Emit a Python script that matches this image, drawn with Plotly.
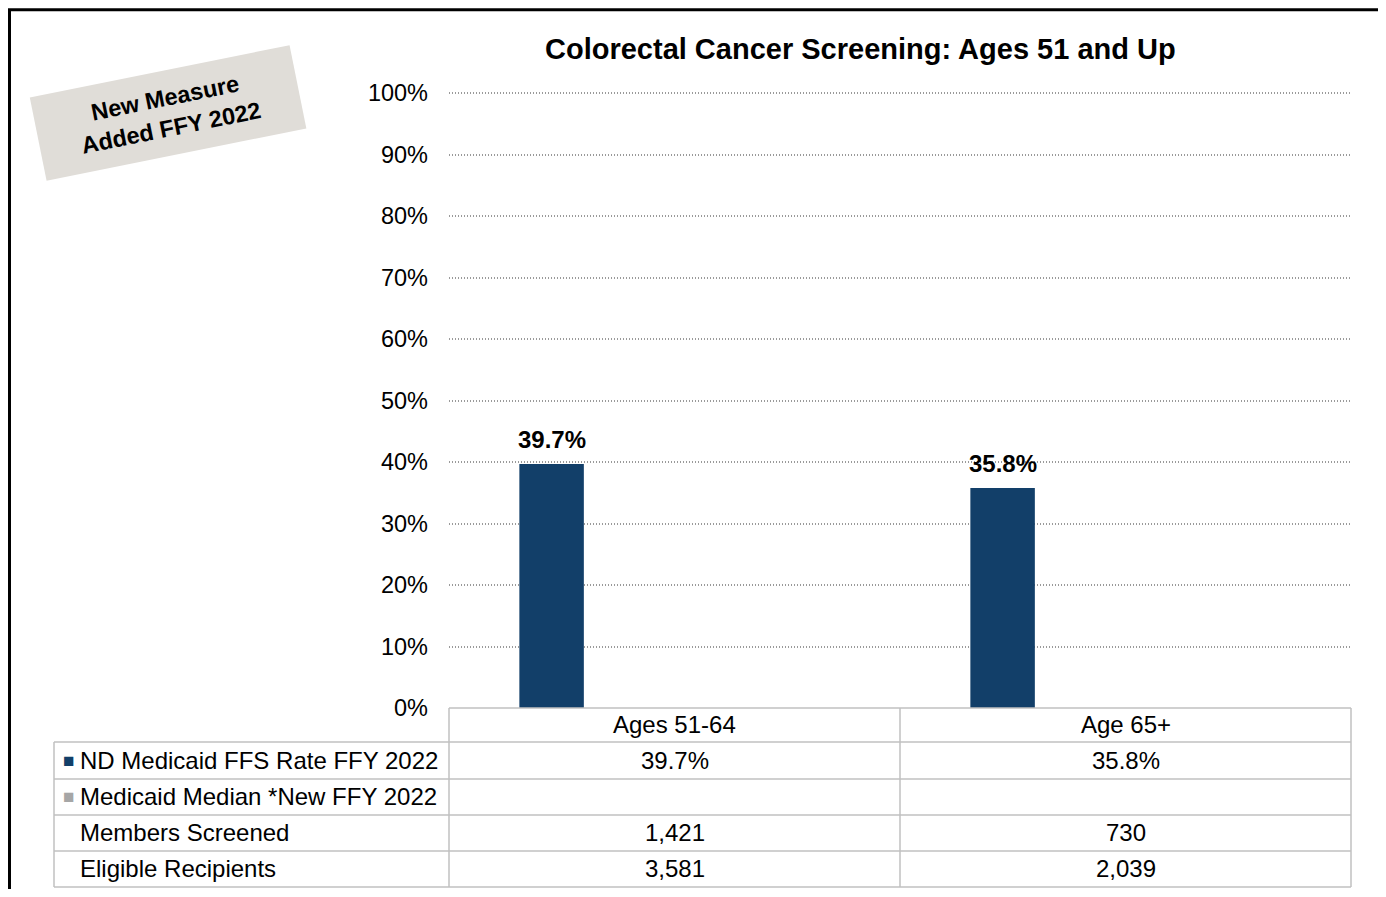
import plotly.graph_objects as go

# ---------------- data ----------------
categories = ["Ages 51-64", "Age 65+"]
nd_rate = [39.7, 35.8]
median_rate = [None, None]
members_screened = ["1,421", "730"]
eligible_recipients = ["3,581", "2,039"]
row_labels = ["ND Medicaid FFS Rate FFY 2022", "Medicaid Median *New FFY 2022",
              "Members Screened", "Eligible Recipients"]
y_ticks = [0, 10, 20, 30, 40, 50, 60, 70, 80, 90, 100]
chart_title = "Colorectal Cancer Screening: Ages 51 and Up"
stamp_text = "New Measure<br>Added FFY 2022"

# ---------------- styling ----------------
FONT = "Liberation Sans, Arial, sans-serif"
BAR_COLOR = "#123f69"
MEDIAN_COLOR = "#a6a6a6"
GRID_COLOR = "#9a9a9a"
TABLE_LINE = "#c0c0c0"
Y_MAX = 101

# page-to-figure mapping (body has an 8px default margin)
OX, OY = 8, 8
W, H = 1378, 881

plot_left, plot_right = 449, 1351
zero_y, hundred_y = 708, 93
plot_bottom = zero_y
plot_top = zero_y - (zero_y - hundred_y) * Y_MAX / 100


def px(x):
    # page pixel -> paper (plot-area) fraction
    return (x - plot_left) / (plot_right - plot_left)


def py(y):
    return (plot_bottom - y) / (plot_bottom - plot_top)


fig = go.Figure()
fig.add_trace(go.Bar(
    x=categories, y=nd_rate, name=row_labels[0],
    marker=dict(color=BAR_COLOR, line=dict(width=0)),
    width=0.143, offset=-0.344, hoverinfo="x+y",
))

cat_px = (plot_right - plot_left) / 2
bar_shift = (-0.344 + 0.143 / 2) * cat_px

annotations = []
# data labels
for c, v in zip(categories, nd_rate):
    annotations.append(dict(
        x=c, y=v, xref="x", yref="y", xshift=bar_shift, yshift=9,
        text=f"<b>{v:.1f}%</b>", showarrow=False, yanchor="bottom",
        font=dict(family=FONT, size=24, color="#000000"),
    ))

# title
annotations.append(dict(
    x=px(860), y=py(49), xref="paper", yref="paper", showarrow=False,
    text=f"<b>{chart_title}</b>", xanchor="center", yanchor="middle",
    font=dict(family=FONT, size=29, color="#000000"),
))

# stamp
annotations.append(dict(
    x=px(168), y=py(112.5), xref="paper", yref="paper", showarrow=False,
    text=f"<b>{stamp_text}</b>", xanchor="center", yanchor="middle",
    textangle=-11.4, bgcolor="#e0ddd8", width=250, height=70, borderpad=7,
    font=dict(family=FONT, size=23.5, color="#000000"),
))

# table
row_edges = [742, 779, 815, 851, 887]
header_mid = (708 + 742) / 2
table_rows = [
    [f"{v:.1f}%" for v in nd_rate],
    ["" if v is None else f"{v:.1f}%" for v in median_rate],
    members_screened,
    eligible_recipients,
]
TFS = 24
for c in categories:
    annotations.append(dict(
        x=c, y=py(header_mid), xref="x", yref="paper", showarrow=False,
        text=c, xanchor="center", yanchor="middle",
        font=dict(family=FONT, size=TFS, color="#000000"),
    ))
marker_colors = [BAR_COLOR, MEDIAN_COLOR, None, None]
for i, (lab, vals) in enumerate(zip(row_labels, table_rows)):
    mid = (row_edges[i] + row_edges[i + 1]) / 2
    annotations.append(dict(
        x=px(78), y=py(mid), xref="paper", yref="paper", showarrow=False,
        text=lab, xanchor="left", yanchor="middle",
        font=dict(family=FONT, size=TFS, color="#000000"),
    ))
    if marker_colors[i]:
        annotations.append(dict(
            x=px(68), y=py(mid), xref="paper", yref="paper", showarrow=False,
            text="■", xanchor="center", yanchor="middle",
            font=dict(family=FONT, size=19, color=marker_colors[i]),
        ))
    for c, v in zip(categories, vals):
        annotations.append(dict(
            x=c, y=py(mid), xref="x", yref="paper", showarrow=False,
            text=v, xanchor="center", yanchor="middle",
            font=dict(family=FONT, size=TFS, color="#000000"),
        ))

shapes = []
line = dict(color=TABLE_LINE, width=1.5)
# horizontal table lines
shapes.append(dict(type="line", xref="paper", yref="paper",
                   x0=px(plot_left), x1=px(plot_right), y0=py(708), y1=py(708), line=line))
for e in row_edges:
    shapes.append(dict(type="line", xref="paper", yref="paper",
                       x0=px(54), x1=px(plot_right), y0=py(e), y1=py(e), line=line))
# vertical table lines
shapes.append(dict(type="line", xref="paper", yref="paper",
                   x0=px(54), x1=px(54), y0=py(742), y1=py(887), line=line))
for xv in [plot_left, (plot_left + plot_right) / 2, plot_right]:
    shapes.append(dict(type="line", xref="paper", yref="paper",
                       x0=px(xv), x1=px(xv), y0=py(708), y1=py(887), line=line))
# outer frame
frame = dict(color="#000000", width=3)
bottom_page = OY + H
shapes.append(dict(type="line", xref="paper", yref="paper",
                   x0=px(9.5), x1=px(9.5), y0=py(9.5), y1=py(bottom_page), line=frame))
shapes.append(dict(type="line", xref="paper", yref="paper",
                   x0=px(8), x1=px(1381.5), y0=py(9.5), y1=py(9.5), line=frame))
shapes.append(dict(type="line", xref="paper", yref="paper",
                   x0=px(1380), x1=px(1380), y0=py(9.5), y1=py(bottom_page), line=frame))

fig.update_layout(
    width=W, height=H,
    margin=dict(l=plot_left - OX, r=W - (plot_right - OX), t=plot_top - OY,
                b=H - (plot_bottom - OY), pad=0),
    paper_bgcolor="#ffffff", plot_bgcolor="#ffffff",
    showlegend=False,
    font=dict(family=FONT, size=22, color="#000000"),
    xaxis=dict(type="category", range=[-0.5, 1.5], showticklabels=False,
               showgrid=False, zeroline=False, showline=False, ticks=""),
    yaxis=dict(range=[0, Y_MAX], tickvals=y_ticks,
               ticktext=[f"{v}%" for v in y_ticks],
               showgrid=True, gridcolor=GRID_COLOR, griddash="1px,2px", gridwidth=1.5,
               zeroline=False, showline=False, ticks="", ticklabelstandoff=20,
               tickfont=dict(family=FONT, size=23.5, color="#000000")),
    annotations=annotations,
    shapes=shapes,
)

fig.write_html("out.html")
